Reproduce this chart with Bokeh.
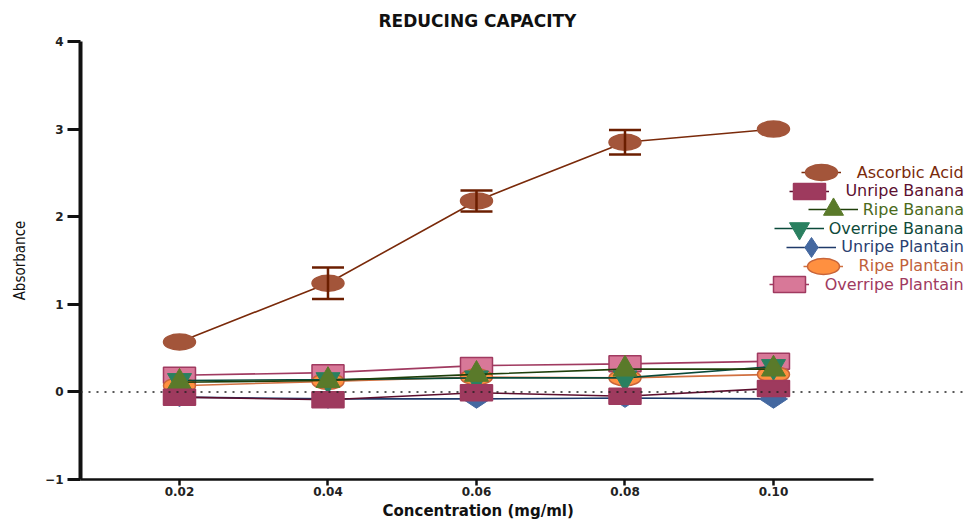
import math
from bokeh.plotting import figure
from bokeh.models import (ColumnDataSource, Range1d, FixedTicker, NumeralTickFormatter,
                          Span, Whisker, TeeHead, Legend, LegendItem, Title)
from bokeh.embed import file_html
from bokeh.resources import INLINE

# ---------------- data ----------------
conc = [0.02, 0.04, 0.06, 0.08, 0.10]
ascorbic_acid = [0.57, 1.24, 2.18, 2.85, 3.00]
ascorbic_err = [0.0, 0.18, 0.12, 0.14, 0.0]
unripe_banana = [-0.06, -0.09, -0.01, -0.05, 0.04]
ripe_banana = [0.11, 0.13, 0.20, 0.26, 0.26]
overripe_banana = [0.13, 0.14, 0.16, 0.16, 0.29]
unripe_plantain = [-0.06, -0.08, -0.08, -0.07, -0.08]
ripe_plantain = [0.07, 0.12, 0.17, 0.16, 0.20]
overripe_plantain = [0.19, 0.22, 0.30, 0.32, 0.35]
y_ticks = [-1, 0, 1, 2, 3, 4]
series_names = ["Ascorbic Acid", "Unripe Banana", "Ripe Banana", "Overripe Banana",
                "Unripe Plantain", "Ripe Plantain", "Overripe Plantain"]

# ---------------- styles ----------------
styles = {
    "Ascorbic Acid":     dict(kind="ellipse", fill="#A3553A", edge="#A3553A", line="#7A2A0A", text="#7A2A0A"),
    "Unripe Banana":     dict(kind="rect", fill="#9E3A5E", edge="#9E3A5E", line="#5C0F2E", text="#5C1030"),
    "Ripe Banana":       dict(kind="triangle", fill="#5A7A2A", edge="#5A7A2A", line="#1F3F0A", text="#4A6A1A"),
    "Overripe Banana":   dict(kind="inverted_triangle", fill="#2A8060", edge="#2A8060", line="#0A4A3A", text="#0F4A3A"),
    "Unripe Plantain":   dict(kind="diamond", fill="#4468A0", edge="#4468A0", line="#1F3A6A", text="#2A4070"),
    "Ripe Plantain":     dict(kind="ellipse", fill="#FF9040", edge="#C8653A", line="#D07040", text="#C0603A"),
    "Overripe Plantain": dict(kind="rect", fill="#D87898", edge="#A03A60", line="#A03A60", text="#A03A60"),
}
values = {
    "Ascorbic Acid": ascorbic_acid, "Unripe Banana": unripe_banana, "Ripe Banana": ripe_banana,
    "Overripe Banana": overripe_banana, "Unripe Plantain": unripe_plantain,
    "Ripe Plantain": ripe_plantain, "Overripe Plantain": overripe_plantain,
}

FONT = "DejaVu Sans"
X_START, X_AXIS_END = 0.006667, 0.11347
PX_PER_UNIT = 793 / (X_AXIS_END - X_START)
FRAME_W = 884
FRAME_H = 438
X_END = X_START + FRAME_W / PX_PER_UNIT

p = figure(output_backend="svg", toolbar_location=None,
           x_range=Range1d(X_START, X_END), y_range=Range1d(-1, 4),
           frame_width=FRAME_W, frame_height=FRAME_H,
           min_border_left=80, min_border_right=0, min_border_top=41, min_border_bottom=0)

p.add_layout(Title(text="REDUCING CAPACITY", align="left", offset=298, standoff=18,
                   vertical_align="top",
                   text_font=FONT, text_font_size="17px", text_font_style="bold",
                   text_color="#111111"), "above")

p.xgrid.grid_line_color = None
p.ygrid.grid_line_color = None
p.outline_line_color = None
p.background_fill_color = "white"
p.border_fill_color = "white"

# axes
p.yaxis.ticker = FixedTicker(ticks=y_ticks)
p.yaxis.axis_line_width = 4
p.yaxis.axis_line_color = "#111111"
p.yaxis.major_tick_line_width = 3
p.yaxis.major_tick_line_color = "#111111"
p.yaxis.major_tick_out = 13
p.yaxis.major_tick_in = 0
p.yaxis.minor_tick_line_color = None
p.yaxis.major_label_text_font = FONT
p.yaxis.major_label_text_font_style = "bold"
p.yaxis.major_label_text_font_size = "12px"
p.yaxis.major_label_text_color = "#222222"
p.yaxis.major_label_standoff = 4
p.yaxis.axis_label = "Absorbance"
p.yaxis.axis_label_text_font = "'DejaVu Sans Condensed', 'Liberation Sans Narrow', Roboto, sans-serif"
p.yaxis.axis_label_text_font_style = "normal"
p.yaxis.axis_label_text_font_size = "15px"
p.yaxis.axis_label_text_color = "#111111"
p.yaxis.axis_label_standoff = 13

p.xaxis.ticker = FixedTicker(ticks=conc)
p.xaxis.bounds = (X_START, X_AXIS_END)
p.xaxis.formatter = NumeralTickFormatter(format="0.00")
p.xaxis.axis_line_width = 2.5
p.xaxis.axis_line_color = "#111111"
p.xaxis.major_tick_line_width = 2.5
p.xaxis.major_tick_line_color = "#111111"
p.xaxis.major_tick_out = 6
p.xaxis.major_tick_in = 0
p.xaxis.minor_tick_line_color = None
p.xaxis.major_label_text_font = FONT
p.xaxis.major_label_text_font_style = "bold"
p.xaxis.major_label_text_font_size = "12px"
p.xaxis.major_label_text_color = "#222222"
p.xaxis.major_label_standoff = 1

p.add_layout(Title(text="Concentration (mg/ml)", align="left", offset=302, standoff=2,
                   text_font=FONT, text_font_size="15px", text_font_style="bold",
                   text_color="#111111"), "below")

# zero line
p.add_layout(Span(location=0, dimension="width", line_color="#222222",
                  line_width=1.5, line_dash="2 6"))

renderers = {}
# draw in reverse so first series is on top
for name in reversed(series_names):
    st = styles[name]
    src = ColumnDataSource(dict(x=conc, y=values[name]))
    ln = p.line("x", "y", source=src, line_color=st["line"], line_width=1.6)
    if name == "Ascorbic Acid":
        idx = [i for i, e in enumerate(ascorbic_err) if e > 0]
        esrc = ColumnDataSource(dict(
            x=[conc[i] for i in idx],
            upper=[ascorbic_acid[i] + ascorbic_err[i] for i in idx],
            lower=[ascorbic_acid[i] - ascorbic_err[i] for i in idx],
        ))
        p.add_layout(Whisker(source=esrc, base="x", upper="upper", lower="lower",
                             line_color="#6B1E00", line_width=2.5, level="glyph",
                             upper_head=TeeHead(size=32, line_color="#6B1E00", line_width=2.5),
                             lower_head=TeeHead(size=32, line_color="#6B1E00", line_width=2.5)))
    if st["kind"] == "ellipse":
        mk = p.ellipse("x", "y", width=32, height=16, width_units="screen", height_units="screen",
                       source=src, fill_color=st["fill"], line_color=st["edge"], line_width=1.5)
    elif st["kind"] == "rect":
        mk = p.rect("x", "y", width=32, height=16, width_units="screen", height_units="screen",
                    source=src, fill_color=st["fill"], line_color=st["edge"], line_width=1.5)
    elif st["kind"] == "diamond":
        mk = p.scatter("x", "y", marker="diamond", size=28, angle=math.pi / 2, source=src,
                       fill_color=st["fill"], line_color=st["edge"], line_width=1)
    else:
        mk = p.scatter("x", "y", marker=st["kind"], size=24, source=src,
                       fill_color=st["fill"], line_color=st["edge"], line_width=1)
    renderers[name] = [ln, mk]

# legends: one per series so each label keeps its colour
# name: (glyph_w, glyph_h, standoff, x from frame left, y-center from frame bottom)
legend_layout = {
    "Ascorbic Acid":     (40, 40, 16, 720.7, 307.0),
    "Unripe Banana":     (40, 20, 16, 709.4, 288.3),
    "Ripe Banana":       (50, 50, 5, 727.7, 269.6),
    "Overripe Banana":   (50, 50, 5, 693.7, 250.9),
    "Unripe Plantain":   (50, 50, 5, 706.3, 232.2),
    "Ripe Plantain":     (40, 40, 16, 722.6, 213.5),
    "Overripe Plantain": (40, 20, 16, 688.7, 194.8),
}
for name in series_names:
    gw, gh, so, vx, yc = legend_layout[name]
    lg = Legend(items=[LegendItem(label=name, renderers=renderers[name])],
                location=(vx, yc - gh / 2), glyph_width=gw, glyph_height=gh, label_height=gh,
                label_standoff=so, padding=0, margin=0, spacing=0,
                border_line_color=None, background_fill_alpha=0,
                label_text_font=FONT, label_text_font_size="16px",
                label_text_color=styles[name]["text"])
    p.add_layout(lg, "center")

open("out.html", "w").write(file_html(p, INLINE))
